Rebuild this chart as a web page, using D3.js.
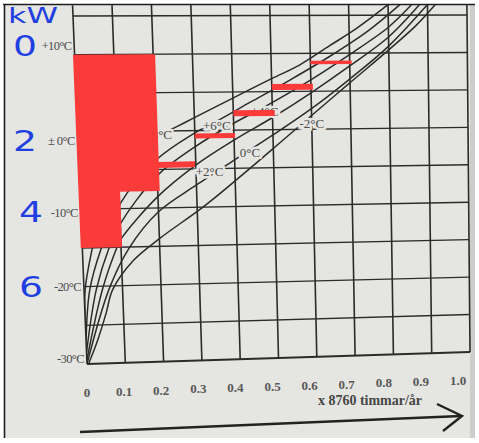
<!DOCTYPE html>
<html><head><meta charset="utf-8">
<script src="https://cdn.jsdelivr.net/npm/d3@7"></script>
<style>html,body{margin:0;padding:0;background:#fff;}svg{display:block;}</style>
</head><body>
<svg id="c" width="479" height="443"></svg>
<script>
// ---------------- data ----------------
const xTicks = [0, 0.1, 0.2, 0.3, 0.4, 0.5, 0.6, 0.7, 0.8, 0.9, 1.0];
const xTickLabels = ["0","0.1","0.2","0.3","0.4","0.5","0.6","0.7","0.8","0.9","1.0"];
const yGrid = [-30, -25, -20, -15, -10, -5, 0, 5, 10, 15];
const yTicks = [10, 0, -10, -20, -30];
const yTickLabels = ["+10°C", "± 0°C", "-10°C", "-20°C", "-30°C"];
const kwTicks = [10, 0, -10, -20];
const kwLabels = ["0", "2", "4", "6"];
const xAxisTitle = "x 8760 timmar/år";
const kwTitle = "kW";

// duration curves (fraction of year, outdoor temperature) for annual mean temps
const curveNames = ["+8°C", "+6°C", "+4°C", "+2°C", "0°C", "-2°C"];
const curveP8 = [[0,-25],[0.003,-20.4],[0.025,-15.2],[0.06,-9],[0.1,-5.5],[0.15,-2.8],[0.2,-0.8],[0.257,0.6],[0.3,1.7],[0.4,4.2],[0.5,6.7],[0.573,8.5],[0.65,11],[0.72,13.3],[0.8,16.4]];
const curveP6 = [[0,-27],[0.015,-20.4],[0.048,-15.2],[0.1,-9.5],[0.2,-3.7],[0.3,-0.3],[0.357,1.2],[0.45,3.8],[0.55,6.6],[0.65,9.6],[0.75,13],[0.83,16.4]];
const curveP4 = [[0,-28.5],[0.032,-20.4],[0.068,-15.2],[0.1,-12],[0.2,-5.8],[0.3,-2.1],[0.4,0.9],[0.48,3],[0.6,6.5],[0.7,9.8],[0.8,13.4],[0.86,16.4]];
const curveP2 = [[0,-29.5],[0.048,-20.4],[0.088,-15.2],[0.1,-14],[0.2,-8.5],[0.3,-4.5],[0.4,-1.3],[0.5,1.6],[0.6,4.8],[0.7,8.3],[0.8,12.1],[0.88,16.4]];
const curve0  = [[0,-30],[0.065,-20.4],[0.12,-15.2],[0.2,-10.5],[0.3,-7.1],[0.4,-3.9],[0.5,-0.7],[0.6,2.7],[0.7,6.6],[0.8,10.9],[0.9,16.4]];
const curveM2 = [[0.004,-30],[0.03,-27],[0.055,-23.5],[0.074,-20.5],[0.13,-16.8],[0.2,-14],[0.315,-10],[0.413,-6.1],[0.525,-1.4],[0.6,1.8],[0.7,6.1],[0.8,10.4],[0.87,13.6],[0.92,16.4]];
const curves = [curveP8, curveP6, curveP4, curveP2, curve0, curveM2];
const curveLabelX = [0.206, 0.357, 0.48, 0.335, 0.44, 0.60];
const curveLabelT = [-0.5, 0.7, 2.4, -5.3, -2.9, 0.8];

// red hand-drawn annotations
const redBarsX0 = [-0.004, 0.1];
const redBarsX1 = [0.103, 0.205];
const redBarsTop = [10, 10];
const redBarsBottom = [-15, -7.8];
const redStepX0 = [0.2, 0.3, 0.4, 0.5, 0.6];
const redStepX1 = [0.298, 0.403, 0.506, 0.605, 0.705];
const redStepT  = [-4.4, -0.7, 2.2, 5.6, 8.8];
const redStepW  = [6, 5, 6, 6, 3.5];

// ---------------- drawing ----------------
const svg = d3.select("#c");
const paper = "#e5e5e2", ink = "#2b2b2b", textInk = "#4a4a4a", red = "#fb3a3a", blue = "#1f3fe0";
const serif = "Liberation Serif, 'DejaVu Serif', serif";

svg.append("rect").attr("width",479).attr("height",443).attr("fill","#ffffff");
svg.append("rect").attr("x",4).attr("y",4).attr("width",468).attr("height",434).attr("fill",paper);
svg.append("rect").attr("x",470).attr("y",4).attr("width",5).attr("height",434).attr("fill","#cdcdca");
svg.append("line").attr("x1",3).attr("x2",475).attr("y1",4.5).attr("y2",4.5).attr("stroke","#1e1e1e").attr("stroke-width",1.6);
svg.append("line").attr("x1",4.5).attr("x2",4.5).attr("y1",4).attr("y2",438).attr("stroke","#1e1e1e").attr("stroke-width",1.6);

// scales into unit space, then photo-perspective corners
const xs = d3.scaleLinear().domain([0,1]).range([0,1]);
const ts = d3.scaleLinear().domain([-30,15]).range([0,1]);
const BL=[87,364], BR=[470,352], TL=[73,16], TR=[467,15];
function P(xv, tv){
  const u = xs(xv), v = ts(tv);
  const bx = BL[0]+u*(BR[0]-BL[0]), by = BL[1]+u*(BR[1]-BL[1]);
  const tx = TL[0]+u*(TR[0]-TL[0]), ty = TL[1]+u*(TR[1]-TL[1]);
  return [bx+v*(tx-bx), by+v*(ty-by)];
}
const tTop = 16.4;
const g = svg.append("g");
const seg = d3.line();

// grid
g.selectAll("path.v").data(xTicks).join("path")
  .attr("d",d=>seg([P(d,-30),P(d,tTop)])).attr("stroke",ink).attr("stroke-width",1.6).attr("fill","none");
g.selectAll("path.h").data(yGrid).join("path")
  .attr("d",d=>seg([P(0,d),P(1,d)])).attr("stroke",ink).attr("stroke-width",d=>d===-30?2:1.4).attr("fill","none");

// curves
const clipPoly = [P(0,-30),P(1,-30),P(1,tTop),P(0,tTop)];
svg.append("clipPath").attr("id","pc").append("path").attr("d",seg(clipPoly)+"Z");
const cl = d3.line().curve(d3.curveCatmullRom.alpha(0.5));
g.append("g").attr("clip-path","url(#pc)").selectAll("path").data(curves).join("path")
  .attr("d",c=>cl(c.map(p=>P(p[0],p[1])))).attr("fill","none").attr("stroke",ink).attr("stroke-width",1.5);

// curve labels (paper halo breaks the lines)
g.selectAll("text.cl").data(curveNames).join("text")
  .attr("x",(d,i)=>P(curveLabelX[i],curveLabelT[i])[0]).attr("y",(d,i)=>P(curveLabelX[i],curveLabelT[i])[1])
  .attr("dy","0.35em").attr("text-anchor","middle")
  .attr("font-family",serif).attr("font-size",13)
  .attr("fill",textInk).attr("stroke",paper).attr("stroke-width",5)
  .attr("paint-order","stroke").text(d=>d);

// y tick labels (nudged like the photographed sheet)
const yNudge = [-9, 9, 3, 0, -5];
svg.selectAll("text.yt").data(yTicks).join("text")
  .attr("x",d=>P(0,d)[0]-3).attr("y",(d,i)=>P(0,d)[1]+yNudge[i]).attr("dy","0.35em").attr("text-anchor","end")
  .attr("font-family",serif).attr("font-size",12.5)
  .attr("fill",textInk).attr("letter-spacing","-0.6").text((d,i)=>yTickLabels[i]);

// x tick labels
const xl = d3.scaleLinear().domain([0,1]).range([87,458]);
svg.selectAll("text.xt").data(xTicks).join("text")
  .attr("x",d=>xl(d)).attr("y",d=>P(d,-30)[1]+33).attr("text-anchor","middle")
  .attr("font-family",serif).attr("font-size",13).attr("font-weight","bold")
  .attr("fill","#585858").text((d,i)=>xTickLabels[i]);

svg.append("text").attr("x",370).attr("y",405).attr("text-anchor","middle")
  .attr("font-family",serif).attr("font-size",14).attr("font-weight","bold")
  .attr("fill","#454545").text(xAxisTitle);

// arrow
svg.append("line").attr("x1",80).attr("y1",432).attr("x2",461).attr("y2",416)
  .attr("stroke","#222").attr("stroke-width",2.4);
svg.append("path").attr("d","M437,404 L462,416 L443,431").attr("fill","none")
  .attr("stroke","#222").attr("stroke-width",2.4).attr("stroke-linejoin","miter");

// red annotations
g.selectAll("path.rb").data(redBarsX0).join("path")
  .attr("d",(d,i)=>seg([P(d,redBarsTop[i]),P(redBarsX1[i],redBarsTop[i]),P(redBarsX1[i],redBarsBottom[i]),P(d,redBarsBottom[i])])+"Z")
  .attr("fill",red);
g.selectAll("path.rs").data(redStepT).join("path")
  .attr("d",(d,i)=>seg([P(redStepX0[i],d),P(redStepX1[i],d)]))
  .attr("stroke",red).attr("stroke-width",(d,i)=>redStepW[i]).attr("fill","none");

// handwritten kW scale
svg.append("text").attr("x",8).attr("y",23).attr("font-family","DejaVu Sans, sans-serif")
  .attr("font-size",21).attr("fill",blue).attr("textLength",50).attr("lengthAdjust","spacingAndGlyphs").text(kwTitle);
const kwX = [13, 13, 19, 19];
svg.selectAll("text.kw").data(kwTicks).join("text")
  .attr("x",(d,i)=>kwX[i]).attr("y",(d,i)=>P(0,d)[1]+yNudge[i]).attr("dy","0.36em")
  .attr("font-family","DejaVu Sans, sans-serif").attr("font-size",28).attr("fill",blue)
  .attr("textLength",24).attr("lengthAdjust","spacingAndGlyphs")
  .text((d,i)=>kwLabels[i]);
</script>
</body></html>
